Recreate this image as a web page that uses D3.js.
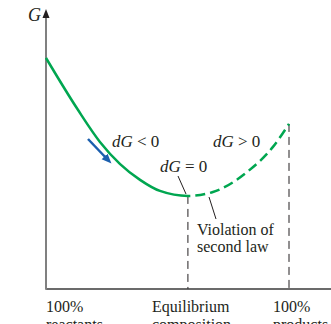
<!DOCTYPE html>
<html>
<head>
<meta charset="utf-8">
<script src="https://cdn.jsdelivr.net/npm/d3@7"></script>
<style>
  body { margin: 0; background: #fff; }
  text { font-family: "Liberation Serif", "DejaVu Serif", serif; fill: #231f20; }
</style>
</head>
<body>
<svg id="chart" width="331" height="324"></svg>
<script>
// reaction progress (% products) and free energy G (arbitrary units)
var progress = [0, 13.2, 22.2, 30.5, 38.7, 46.9, 58.4, 68.7, 82.7, 93.4, 100];
var gibbs    = [83.4, 64.6, 53.1, 45.1, 39.4, 35.4, 33.6, 35.0, 42.2, 51.3, 59.6];
var equilibrium = 58.4;
var tickLabels = [["100%", "reactants"], ["Equilibrium", "composition"], ["100%", "products"]];

var svg = d3.select("#chart");
var x = d3.scaleLinear().domain([0, 100]).range([46, 289]);
var y = d3.scaleLinear().domain([0, 100]).range([289, 12]);

var pts = progress.map(function(p, i) { return [p, gibbs[i]]; });
var line = d3.line()
    .x(function(d) { return x(d[0]); })
    .y(function(d) { return y(d[1]); })
    .curve(d3.curveMonotoneX);

var defs = svg.append("defs");
defs.append("clipPath").attr("id", "left")
  .append("rect").attr("x", 0).attr("y", 0).attr("width", x(equilibrium)).attr("height", 324);
defs.append("clipPath").attr("id", "right")
  .append("rect").attr("x", x(equilibrium)).attr("y", 0).attr("width", 331).attr("height", 324);
defs.append("marker").attr("id", "head").attr("viewBox", "0 0 10 10")
    .attr("refX", 5).attr("refY", 5).attr("markerWidth", 4).attr("markerHeight", 4)
    .attr("orient", "auto")
  .append("path").attr("d", "M0,1 L10,5 L0,9 Z").attr("fill", "#1b5fae");

// dashed verticals
svg.append("line")
    .attr("x1", x(equilibrium)).attr("x2", x(equilibrium))
    .attr("y1", y(d3.min(gibbs))).attr("y2", y(0))
    .attr("stroke", "#231f20").attr("stroke-width", 1).attr("stroke-dasharray", "8,5");
svg.append("line")
    .attr("x1", x(100)).attr("x2", x(100))
    .attr("y1", y(gibbs[gibbs.length - 1])).attr("y2", y(0))
    .attr("stroke", "#231f20").attr("stroke-width", 1).attr("stroke-dasharray", "8,5");

// axes
svg.append("line").attr("x1", 46).attr("x2", 331).attr("y1", y(0)).attr("y2", y(0))
    .attr("stroke", "#3a3a3a").attr("stroke-width", 1.5);
svg.append("line").attr("x1", 46).attr("x2", 46).attr("y1", y(0) + 0.75).attr("y2", 16)
    .attr("stroke", "#808080").attr("stroke-width", 2);
svg.append("path").attr("d", "M46,9 L49.5,18 L42.5,18 Z").attr("fill", "#231f20");
svg.append("text").attr("x", 28).attr("y", 21).attr("font-size", 18)
    .attr("font-style", "italic").text("G");

// curve
svg.append("path").datum(pts).attr("d", line).attr("clip-path", "url(#left)")
    .attr("fill", "none").attr("stroke", "#00a650").attr("stroke-width", 2.5);
svg.append("path").datum(pts).attr("d", line).attr("clip-path", "url(#right)")
    .attr("fill", "none").attr("stroke", "#00a650").attr("stroke-width", 2.5)
    .attr("stroke-dasharray", "10,5").attr("stroke-dashoffset", -4);

// blue arrow
svg.append("line").attr("x1", 88).attr("y1", 139).attr("x2", 108).attr("y2", 160)
    .attr("stroke", "#1b5fae").attr("stroke-width", 2.5).attr("marker-end", "url(#head)");

// annotations
function label(tx, ty, parts) {
  var t = svg.append("text").attr("x", tx).attr("y", ty).attr("font-size", 17);
  parts.forEach(function(p) {
    t.append("tspan").attr("font-style", p[1] ? "italic" : null).text(p[0]);
  });
}
label(112, 147, [["dG", true], [" < 0", false]]);
label(213, 147, [["dG", true], [" > 0", false]]);
label(160, 172, [["dG", true], [" = 0", false]]);
svg.append("line").attr("x1", 178).attr("y1", 176).attr("x2", 186).attr("y2", 194)
    .attr("stroke", "#231f20").attr("stroke-width", 1);
svg.append("line").attr("x1", 209).attr("y1", 197).attr("x2", 216).attr("y2", 219)
    .attr("stroke", "#231f20").attr("stroke-width", 1);
svg.append("text").attr("x", 197).attr("y", 235).attr("font-size", 16).text("Violation of");
svg.append("text").attr("x", 197).attr("y", 252).attr("font-size", 16).text("second law");

// tick labels
var tickX = [46, 152, 273];
tickLabels.forEach(function(l, i) {
  svg.append("text").attr("x", tickX[i]).attr("y", 312).attr("font-size", 16).text(l[0]);
  svg.append("text").attr("x", tickX[i]).attr("y", 330).attr("font-size", 16).text(l[1]);
});
</script>
</body>
</html>
